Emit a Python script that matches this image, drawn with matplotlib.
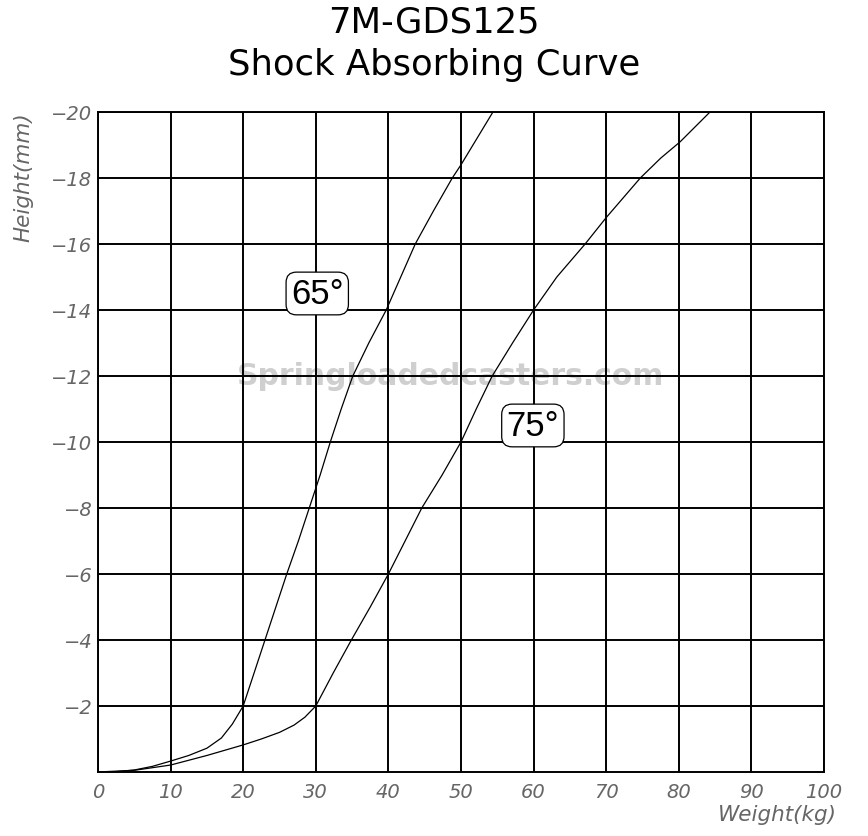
import matplotlib
matplotlib.use("Agg")
import matplotlib.pyplot as plt

# curve readings (weight kg, height mm)
w65 = [0, 2.5, 5, 7.5, 10, 12.5, 15, 17, 18.5, 20, 21.5, 23.0, 24.5, 26.0, 27.6, 29.1, 30.6,
       32.0, 33.5, 35.1, 37.3, 39.7, 41.7, 43.7, 46.2, 48.8, 50, 52.2, 54.4]
h65 = [0, -0.01, -0.06, -0.17, -0.33, -0.5, -0.72, -1.03, -1.45, -2, -3, -4, -5, -6, -7, -8, -9,
       -10, -11, -12, -13.0, -14, -15, -16, -17, -18, -18.4, -19.2, -20]

w75 = [0, 5, 10, 15, 20, 22.5, 25, 27, 28.5, 30, 31.2, 32.4, 34.9, 37.5, 40, 42.3, 44.6,
       47.4, 50, 52.1, 54.3, 57.1, 60, 63.2, 67.1, 70, 74.7, 77.5, 80.2, 84.3]
h75 = [0, -0.05, -0.21, -0.5, -0.82, -1.0, -1.2, -1.42, -1.66, -2, -2.5, -3, -4, -5, -6, -7, -8,
       -9, -10, -11, -12, -13, -14, -15, -16, -16.8, -18, -18.6, -19.1, -20]

x_ticks = list(range(0, 101, 10))
y_ticks = list(range(-2, -21, -2))

labels = ["65°", "75°"]
label_pos = [(30.2, -14.5), (59.9, -10.5)]

fig = plt.figure(figsize=(8.68, 8.37), dpi=100)
ax = fig.add_axes([0.1129, 0.0765, 0.8364, 0.7885])

ax.set_xlim(0, 100)
ax.set_ylim(0, -20)
ax.set_xticks(x_ticks)
ax.set_yticks(y_ticks)
ax.set_xticklabels([str(t) for t in x_ticks])
ax.set_yticklabels(["\u2212%d" % abs(t) for t in y_ticks])
ax.tick_params(axis="y", length=0, pad=4, labelsize=14, labelcolor="#666666")
ax.tick_params(axis="x", length=0, pad=7, labelsize=14, labelcolor="#666666")
for lbl in ax.get_xticklabels() + ax.get_yticklabels():
    lbl.set_fontstyle("italic")
ax.grid(True, color="black", linewidth=1.4)
for sp in ax.spines.values():
    sp.set_linewidth(1.4)

# watermark
ax.text(48.5, -12.0, "Springloadedcasters.com", ha="center", va="center",
        fontsize=21.5, fontweight="bold", color="#cfcfcf", zorder=1)

ax.plot(w65, h65, color="black", linewidth=0.9, zorder=3)
ax.plot(w75, h75, color="black", linewidth=0.9, zorder=3)

for txt, (lx, ly) in zip(labels, label_pos):
    ax.text(lx, ly, txt, ha="center", va="center", fontsize=25,
            family="Liberation Sans", zorder=4,
            bbox=dict(boxstyle="round,pad=0.14,rounding_size=0.3", fc="white", ec="black", lw=0.9))

fig.text(0.5, 0.973, "7M-GDS125", ha="center", va="center", fontsize=25.5)
fig.text(0.5, 0.922, "Shock Absorbing Curve", ha="center", va="center", fontsize=25.5)

fig.text(0.027, 0.866, "Height(mm)", rotation=90, ha="center", va="top",
         fontsize=15.5, fontstyle="italic", color="#666666")
fig.text(0.964, 0.026, "Weight(kg)", ha="right", va="center",
         fontsize=15.5, fontstyle="italic", color="#666666")

fig.savefig("out.png", dpi=100)
